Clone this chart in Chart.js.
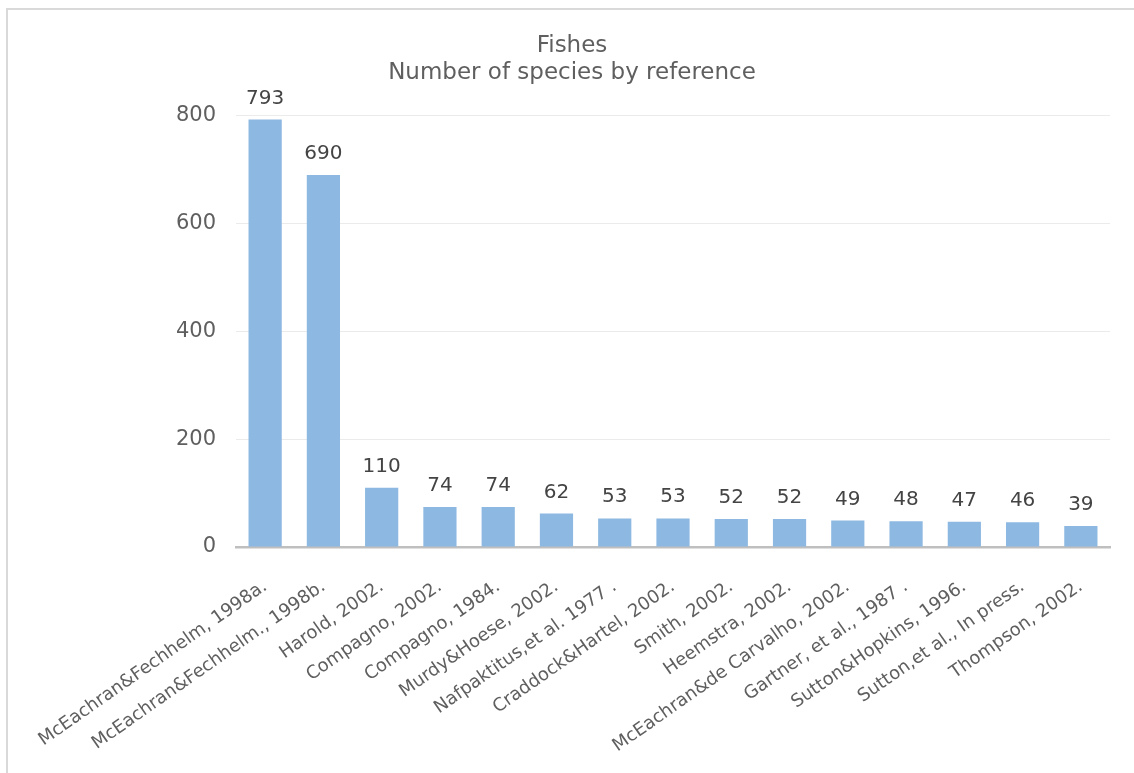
<!DOCTYPE html>
<html>
<head>
<meta charset="utf-8">
<title>Fishes</title>
<script src="https://cdn.jsdelivr.net/npm/chart.js@4.4.1/dist/chart.umd.min.js"></script>
<style>
    html, body { margin: 0; padding: 0; background: #fff; overflow: hidden; }
    #wrap { position: relative; width: 1134px; height: 773px; overflow: hidden; }
    #frame {
        position: absolute; left: 6px; top: 8px; width: 1400px; height: 1000px;
        border: 2px solid #d9d9d9; pointer-events: none;
    }
</style>
</head>
<body>
<div id="wrap">
    <canvas id="fishChart"></canvas>
    <div id="frame"></div>
</div>
<script>
const references = [
    'McEachran&Fechhelm, 1998a.',
    'McEachran&Fechhelm., 1998b.',
    'Harold, 2002.',
    'Compagno, 2002.',
    'Compagno, 1984.',
    'Murdy&Hoese, 2002.',
    'Nafpaktitus,et al. 1977 .',
    'Craddock&Hartel, 2002.',
    'Smith, 2002.',
    'Heemstra, 2002.',
    'McEachran&de Carvalho, 2002.',
    'Gartner, et al., 1987 .',
    'Sutton&Hopkins, 1996.',
    'Sutton,et al., In press.',
    'Thompson, 2002.'
];
const speciesCount = [793, 690, 110, 74, 74, 62, 53, 53, 52, 52, 49, 48, 47, 46, 39];
const yTicks = [0, 200, 400, 600, 800];

const textColor = '#5f5f5f';
const fontFamily = "'DejaVu Sans', sans-serif";

// Valores encima de cada barra
const valueLabels = {
    id: 'valueLabels',
    afterDatasetsDraw(chart) {
        const ctx = chart.ctx;
        const meta = chart.getDatasetMeta(0);
        ctx.save();
        ctx.fillStyle = '#444444';
        ctx.font = '20px ' + fontFamily;
        ctx.textAlign = 'center';
        ctx.textBaseline = 'alphabetic';
        meta.data.forEach((bar, i) => {
            ctx.fillText(String(speciesCount[i]), bar.x, bar.y - 16);
        });
        ctx.restore();
    }
};

const ctx = document.getElementById('fishChart').getContext('2d');
const myChart = new Chart(ctx, {
    type: 'bar',
    data: {
        labels: references,
        datasets: [{
            label: 'Species',
            data: speciesCount,
            backgroundColor: '#8db8e2',
            borderWidth: 0,
            barPercentage: 0.57,
            categoryPercentage: 1.0
        }]
    },
    options: {
        responsive: true,
        maintainAspectRatio: false,
        animation: false,
        layout: { padding: { left: 34, right: 24, top: 0, bottom: 0 } },
        plugins: {
            legend: { display: false },
            tooltip: { enabled: false },
            title: {
                display: true,
                text: ['Fishes', 'Number of species by reference'],
                color: textColor,
                font: { family: fontFamily, size: 23, weight: 'normal', lineHeight: 1.17 },
                padding: { top: 33, bottom: 29 }
            }
        },
        scales: {
            x: {
                grid: { display: false },
                border: { display: true, color: '#bfbfbf', width: 2.5 },
                ticks: {
                    color: textColor,
                    font: { family: fontFamily, size: 18 },
                    minRotation: 35,
                    maxRotation: 35,
                    autoSkip: false,
                    padding: 21
                },
                afterFit(scale) { scale.height = 226; }
            },
            y: {
                min: 0,
                max: 800,
                afterBuildTicks(scale) { scale.ticks = yTicks.map(v => ({ value: v })); },
                grid: { color: '#ebebeb', lineWidth: 1, drawTicks: false },
                border: { display: false },
                ticks: {
                    color: textColor,
                    font: { family: fontFamily, size: 21 },
                    padding: 20
                },
                afterFit(scale) { scale.width = 202; }
            }
        }
    },
    plugins: [valueLabels]
});
</script>
</body>
</html>
